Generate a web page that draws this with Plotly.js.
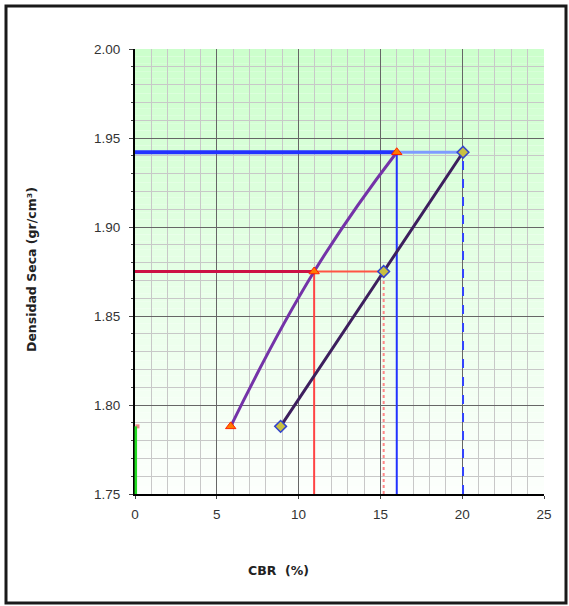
<!DOCTYPE html>
<html>
<head>
<meta charset="utf-8">
<script src="https://cdn.plot.ly/plotly-3.0.1.min.js"></script>
<style>html,body{margin:0;padding:0;background:#fff;}#chart{width:569px;height:606px;}</style>
</head>
<body>
<div id="chart"></div>
<script>
// Data
const densidad = [1.788, 1.875, 1.942];        // dry density (gr/cm3)
const cbrCurve1 = [5.85, 10.95, 16.0];          // CBR (%) curve 1 (triangles)
const cbrCurve2 = [8.9, 15.2, 20.05];           // CBR (%) curve 2 (diamonds)
const xTicks = [0, 5, 10, 15, 20, 25];
const yTicks = [1.75, 1.80, 1.85, 1.90, 1.95, 2.00];
const yMin = 1.75;

const traces = [];
// reference lines at 1.942 (blue)
traces.push({x:[0, cbrCurve1[2]], y:[densidad[2], densidad[2]], mode:'lines', line:{color:'#2233ff', width:4}});
traces.push({x:[cbrCurve1[2], cbrCurve2[2]], y:[densidad[2], densidad[2]], mode:'lines', line:{color:'#7f9cff', width:3}});
traces.push({x:[cbrCurve1[2], cbrCurve1[2]], y:[yMin, densidad[2]], mode:'lines', line:{color:'#2233ff', width:2}});
traces.push({x:[cbrCurve2[2], cbrCurve2[2]], y:[yMin, densidad[2]], mode:'lines', line:{color:'#3344ff', width:2, dash:'dash'}});

// reference lines at 1.875 (red)
traces.push({x:[0, cbrCurve1[1]], y:[densidad[1], densidad[1]], mode:'lines', line:{color:'#cc1144', width:3}});
traces.push({x:[cbrCurve1[1], cbrCurve2[1]], y:[densidad[1], densidad[1]], mode:'lines', line:{color:'#ff5544', width:2}});
traces.push({x:[cbrCurve1[1], cbrCurve1[1]], y:[yMin, densidad[1]], mode:'lines', line:{color:'#ff4444', width:2}});
traces.push({x:[cbrCurve2[1], cbrCurve2[1]], y:[yMin, densidad[1]], mode:'lines', line:{color:'#ff8888', width:2, dash:'dot'}});

// curves
traces.push({x:cbrCurve1, y:densidad, mode:'lines+markers', line:{color:'#7433a8', width:3, shape:'spline', smoothing:1.3},
  marker:{symbol:'triangle-up', size:9, color:'#ff7a00', line:{color:'#ff2200', width:1}}});
traces.push({x:cbrCurve2, y:densidad, mode:'lines+markers', line:{color:'#3d1f5e', width:3, shape:'spline', smoothing:0.3},
  marker:{symbol:'diamond', size:9, color:'#c8c040', line:{color:'#3344cc', width:1.5}}});

// small marker near the axis
traces.push({x:[0.15], y:[densidad[0]], mode:'markers', marker:{symbol:'square', size:4, color:'#ee8888'}, cliponaxis:false, hoverinfo:'skip'});

// gradient background stripes (styling only)
const shapes = [];
const N = 60;
for (let i = 0; i < N; i++) {
  const t = i / (N - 1); // 0 bottom, 1 top
  const rb = Math.round(252 - 48 * Math.pow(t, 1.1));
  shapes.push({type:'rect', xref:'x domain', yref:'y domain', x0:0, x1:1, y0:i/N, y1:(i+1)/N,
    fillcolor:`rgb(${rb},255,${rb})`, line:{width:0}, layer:'below'});
}
// green segment along the y axis (from the first density value down to the axis minimum)
shapes.push({type:'line', xref:'paper', yref:'y', x0:0.002, x1:0.002, y0:yMin, y1:densidad[0],
  line:{color:'#22dd22', width:2.5}, layer:'above'});
// outer frame
shapes.push({type:'rect', xref:'paper', yref:'paper', x0:(6-135)/409, x1:(566-135)/409, y0:(494-603)/445, y1:(494-6)/445,
  line:{color:'#1a1a1a', width:3}, fillcolor:'rgba(0,0,0,0)', layer:'above'});

const tickFont = {family:'Liberation Sans, Arial, sans-serif', size:13.5, color:'#333'};
const layout = {
  width:569, height:606,
  margin:{l:135, r:25, t:49, b:112},
  paper_bgcolor:'#ffffff', plot_bgcolor:'#ffffff',
  showlegend:false,
  font:{family:'Liberation Sans, Arial, sans-serif', size:11, color:'#222'},
  xaxis:{range:[0,25], tickvals:xTicks, ticktext:xTicks.map(String), showgrid:true, gridcolor:'#666', gridwidth:1,
    minor:{dtick:1, showgrid:true, gridcolor:'#c8c8c8', gridwidth:1}, zeroline:false,
    showline:true, linecolor:'#000', linewidth:2, ticks:'outside', ticklen:3, tickcolor:'#444',
    ticklabelstandoff:4, tickfont:tickFont},
  yaxis:{range:[1.75,2.0], tickvals:yTicks, ticktext:yTicks.map(v=>v.toFixed(2)), showgrid:true, gridcolor:'#666', gridwidth:1,
    minor:{dtick:0.01, showgrid:true, gridcolor:'#c8c8c8', gridwidth:1, ticks:'outside', ticklen:2, tickcolor:'#444'}, zeroline:false,
    showline:true, linecolor:'#000', linewidth:2, ticks:'outside', ticklen:4, tickcolor:'#444',
    ticklabelstandoff:6, tickfont:tickFont},
  shapes:shapes,
  annotations:[
    {text:'<b>CBR  (%)</b>', xref:'paper', yref:'paper', x:(278-135)/409, y:(494-570)/445, showarrow:false,
      font:{family:'DejaVu Sans, sans-serif', size:12.5, color:'#222'}, xanchor:'center', yanchor:'middle'},
    {text:'<b>Densidad Seca (gr/cm³)</b>', xref:'paper', yref:'paper', x:(31-135)/409, y:(494-270)/445, showarrow:false,
      textangle:-90, font:{family:'DejaVu Sans, sans-serif', size:12.5, color:'#222'}, xanchor:'center', yanchor:'middle'}
  ]
};

Plotly.newPlot('chart', traces, layout, {displayModeBar:false, staticPlot:true});
</script>
</body>
</html>
